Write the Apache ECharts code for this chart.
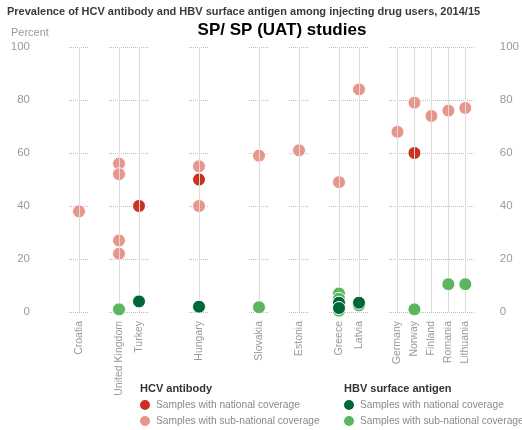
<!DOCTYPE html>
<html>
<head>
<meta charset="utf-8">
<script src="https://cdn.jsdelivr.net/npm/echarts@6/dist/echarts.min.js"></script>
<style>
  html, body { margin: 0; padding: 0; background: #fff; }
  #main { width: 522px; height: 430px; }
</style>
</head>
<body>
<div id="main"></div>
<script>
// countries grouped as in the original (gaps between groups)
var groups = [
    ['Croatia'],
    ['United Kingdom', 'Turkey'],
    ['Hungary'],
    ['Slovakia'],
    ['Estonia'],
    ['Greece', 'Latvia'],
    ['Germany', 'Norway', 'Finland', 'Romania', 'Lithuania']
];
var gridLeft = [69, 109, 189, 249, 289, 329, 389];
var slotWidth = 20;

// [country, percent]
var hcvNational = [['Turkey', 40], ['Hungary', 50], ['Norway', 60]];
var hcvSub = [
    ['Croatia', 38],
    ['United Kingdom', 56], ['United Kingdom', 52], ['United Kingdom', 27], ['United Kingdom', 22],
    ['Hungary', 55], ['Hungary', 40],
    ['Slovakia', 59], ['Estonia', 61], ['Greece', 49], ['Latvia', 84],
    ['Germany', 68], ['Norway', 79], ['Finland', 74], ['Romania', 76], ['Lithuania', 77]
];
var hbvNational = [['Turkey', 4], ['Hungary', 2], ['Greece', 3.5], ['Greece', 1.5], ['Latvia', 3.5]];
var hbvSub = [
    ['United Kingdom', 1], ['Slovakia', 1.8],
    ['Greece', 7], ['Greece', 5], ['Greece', 2.5], ['Greece', 0.5],
    ['Latvia', 2.5], ['Norway', 1], ['Romania', 10.5], ['Lithuania', 10.5]
];

var colors = {
    hcvNat: '#c9321f',
    hcvSub: '#e8968b',
    hbvNat: '#00673a',
    hbvSub: '#5cb660'
};
var legendText = {
    hcvNat: 'Samples with national coverage',
    hcvSub: 'Samples with sub-national coverage',
    hbvNat: 'Samples with national coverage',
    hbvSub: 'Samples with sub-national coverage'
};

var myChart = echarts.init(document.getElementById('main'));

var grids = [], xAxes = [], yAxes = [], series = [];
var last = groups.length - 1;

function pick(arr, names) {
    return arr.filter(function (d) { return names.indexOf(d[0]) >= 0; });
}

groups.forEach(function (names, i) {
    grids.push({
        left: gridLeft[i],
        width: slotWidth * names.length,
        top: 47,
        bottom: 118
    });
    xAxes.push({
        type: 'category',
        gridIndex: i,
        data: names,
        axisLine: { show: false },
        axisTick: { show: false },
        axisLabel: {
            rotate: 90,
            interval: 0,
            margin: 9,
            color: '#9a9a9a',
            fontSize: 10.5,
            fontFamily: 'Liberation Sans'
        }
    });
    yAxes.push({
        type: 'value',
        gridIndex: i,
        min: 0,
        max: 100,
        interval: 20,
        position: i === last ? 'right' : 'left',
        axisLine: { show: false },
        axisTick: { show: false },
        axisLabel: {
            show: i === 0 || i === last,
            margin: i === 0 ? 39 : 26,
            color: '#9a9a9a',
            fontSize: 11.5,
            fontFamily: 'Liberation Sans'
        },
        splitLine: {
            lineStyle: { type: [1, 1], color: '#bdbdbd', width: 1 }
        }
    });

    // vertical guide line through each country
    series.push({
        type: 'line',
        xAxisIndex: i,
        yAxisIndex: i,
        data: [],
        silent: true,
        z: 1,
        markLine: {
            silent: true,
            symbol: 'none',
            label: { show: false },
            lineStyle: { type: 'solid', color: '#dcdcdc', width: 1 },
            data: names.map(function (n) { return { xAxis: n }; })
        }
    });

    var sets = [
        ['hcvSub', hcvSub],
        ['hcvNat', hcvNational],
        ['hbvSub', hbvSub],
        ['hbvNat', hbvNational]
    ];
    sets.forEach(function (s, k) {
        series.push({
            name: s[0],
            type: 'scatter',
            xAxisIndex: i,
            yAxisIndex: i,
            symbolSize: 13,
            z: 3 + k,
            itemStyle: {
                color: colors[s[0]],
                borderColor: '#fff',
                borderWidth: 1,
                opacity: 1
            },
            data: pick(s[1], names)
        });
    });
});

var legendBase = {
    orient: 'vertical',
    top: 398,
    padding: 0,
    icon: 'circle',
    itemWidth: 12, itemHeight: 12, itemGap: 2,
    selectedMode: false,
    formatter: function (n) { return legendText[n]; },
    textStyle: { fontSize: 10.2, color: '#8a8a8a', fontFamily: 'Liberation Sans' }
};

var option = {
    animation: false,
    title: [
        {
            text: 'Prevalence of HCV antibody and HBV surface antigen among injecting drug users, 2014/15',
            left: 7, top: 6, padding: 0,
            textStyle: { fontSize: 11, fontWeight: 'bold', color: '#3a3a3a', fontFamily: 'Liberation Sans' }
        },
        {
            text: 'SP/ SP (UAT) studies',
            left: 282, top: 22, padding: 0, textAlign: 'center',
            textStyle: { fontSize: 17, fontWeight: 'bold', color: '#000', fontFamily: 'Liberation Sans' }
        },
        {
            text: 'Percent',
            left: 11, top: 27, padding: 0,
            textStyle: { fontSize: 11, fontWeight: 'normal', color: '#9a9a9a', fontFamily: 'Liberation Sans' }
        },
        {
            text: 'HCV antibody',
            left: 140, top: 383, padding: 0,
            textStyle: { fontSize: 11, fontWeight: 'bold', color: '#333', fontFamily: 'Liberation Sans' }
        },
        {
            text: 'HBV surface antigen',
            left: 344, top: 383, padding: 0,
            textStyle: { fontSize: 11, fontWeight: 'bold', color: '#333', fontFamily: 'Liberation Sans' }
        }
    ],
    legend: [
        Object.assign({}, legendBase, { data: ['hcvNat', 'hcvSub'], left: 138 }),
        Object.assign({}, legendBase, { data: ['hbvNat', 'hbvSub'], left: 342 })
    ],
    grid: grids,
    xAxis: xAxes,
    yAxis: yAxes,
    series: series
};
myChart.setOption(option);
</script>
</body>
</html>
